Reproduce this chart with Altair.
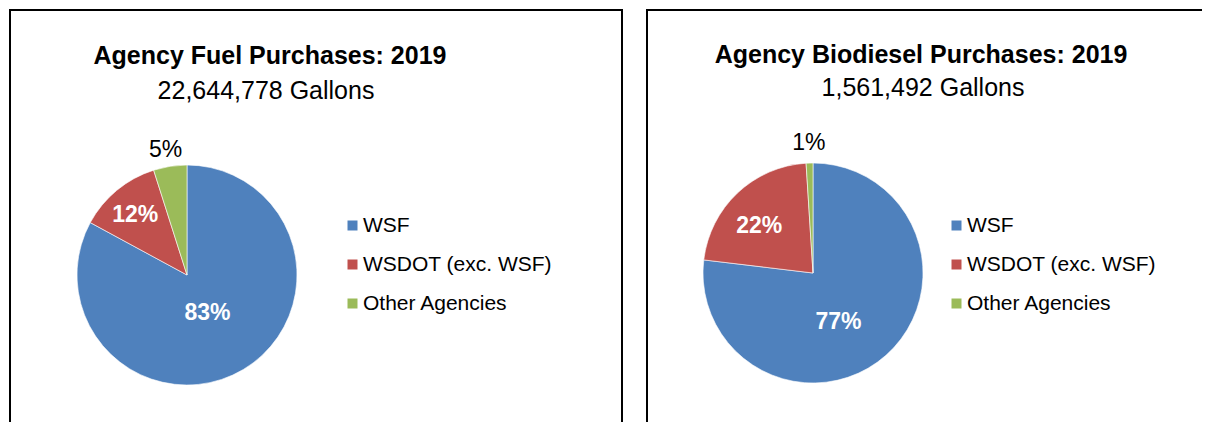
import altair as alt
import pandas as pd

# ---- data ----
agencies = ["WSF", "WSDOT (exc. WSF)", "Other Agencies"]
colors = ["#4F81BD", "#C0504D", "#9BBB59"]
fuel_share = [82.9, 12.2, 4.9]        # percent of 22,644,778 gallons
biodiesel_share = [76.9, 22.1, 1.0]   # percent of 1,561,492 gallons
fuel_title = "Agency Fuel Purchases: 2019"
fuel_subtitle = "22,644,778 Gallons"
bio_title = "Agency Biodiesel Purchases: 2019"
bio_subtitle = "1,561,492 Gallons"

FONT = "Liberation Sans"
H = 412


def panel(shares, title, subtitle, width, dash, cx, cy, title_pos, sub_pos,
          legend_x, label_specs):
    df = pd.DataFrame({"agency": agencies, "share": shares,
                       "idx": list(range(len(agencies)))})
    base = alt.Chart(df).transform_calculate(
        label="format(datum.share / 100, '.0%')"
    ).encode(
        theta=alt.Theta("share:Q", stack=True),
        order=alt.Order("idx:Q"),
        x=alt.value(cx),
        y=alt.value(cy),
    )
    pie = base.mark_arc(radius=110, stroke="white", strokeWidth=0.6).encode(
        color=alt.Color(
            "agency:N",
            scale=alt.Scale(domain=agencies, range=colors),
            legend=alt.Legend(
                orient="none", legendX=legend_x, legendY=205, direction="vertical",
                title=None, symbolType="square", symbolSize=100, symbolStrokeWidth=0,
                labelFont=FONT, labelFontSize=21, labelColor="black",
                rowPadding=17, labelOffset=0, padding=0, labelLimit=400,
            ),
        )
    )
    layers = [pie]
    for agency, (r, dx, dy, inside) in label_specs.items():
        layers.append(
            base.transform_calculate(
                t=f"datum.agency == '{agency}' ? datum.label : ''"
            ).mark_text(
                radius=r, dx=dx, dy=dy, font=FONT, fontSize=23,
                fontWeight="bold" if inside else "normal",
                color="white" if inside else "black",
                align="center", baseline="middle",
            ).encode(text="t:N")
        )
    head = pd.DataFrame({"t": [title]})
    sub = pd.DataFrame({"t": [subtitle]})
    layers.append(
        alt.Chart(head).mark_text(
            font=FONT, fontSize=25, fontWeight="bold", color="black",
            align="center", baseline="alphabetic",
        ).encode(text="t:N", x=alt.value(title_pos[0]), y=alt.value(title_pos[1]))
    )
    layers.append(
        alt.Chart(sub).mark_text(
            font=FONT, fontSize=25, fontWeight="normal", color="black",
            align="center", baseline="alphabetic",
        ).encode(text="t:N", x=alt.value(sub_pos[0]), y=alt.value(sub_pos[1]))
    )
    return alt.layer(*layers).properties(
        width=width, height=H,
        view=alt.ViewBackground(stroke="black", strokeWidth=2, strokeDash=dash,
                                fill="white"),
    )


W1, W2 = 612, 555
left = panel(
    fuel_share, fuel_title, fuel_subtitle, W1, [W1 + H, W1], 177, 265,
    (260, 54), (256, 89), 332,
    {"WSF": (44, -2, 0, True), "WSDOT (exc. WSF)": (78, -2, 0, True),
     "Other Agencies": (127, -2, 0, False)},
)
right = panel(
    biodiesel_share, bio_title, bio_subtitle, W2, [W2, W2 + H], 166, 263,
    (274, 53), (276, 86), 299,
    {"WSF": (55, -11, 8, True), "WSDOT (exc. WSF)": (71, -5, 5, True),
     "Other Agencies": (130, 0, 0, False)},
)

chart = alt.hconcat(left, right, spacing=23).resolve_scale(
    color="independent"
).resolve_legend(
    color="independent"
).properties(
    padding={"left": 1, "top": 1, "right": 0, "bottom": 0},
    background="white",
)

chart.save("out.html", embed_options={"renderer": "svg", "actions": False})
